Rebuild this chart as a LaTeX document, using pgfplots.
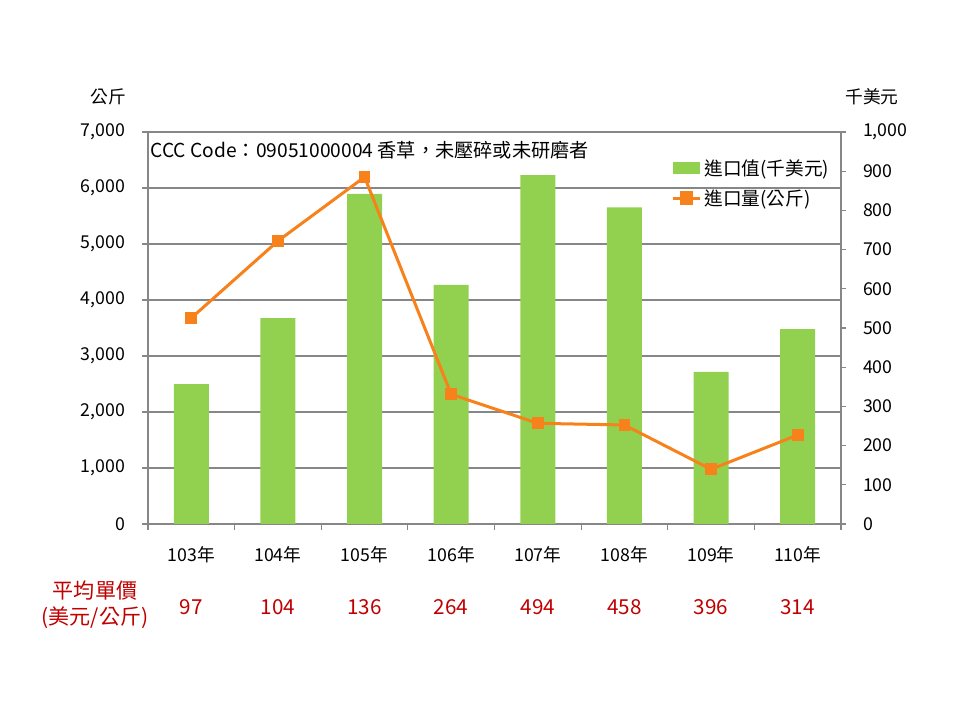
\documentclass[border=0pt]{standalone}
\usepackage{fontspec}
\setmainfont{Noto Sans CJK TC}
\usepackage{pgfplots}
\pgfplotsset{compat=1.18}

\definecolor{barg}{HTML}{92D050}
\definecolor{lineo}{HTML}{F7811A}
\definecolor{darkr}{HTML}{C00000}
\definecolor{axg}{HTML}{878787}

\pgfplotstableread{
x  val  qty
0  357  3679
1  525  5054
2  842  6196
3  610  2316
4  890  1798
5  808  1768
6  388  977
7  497  1589
}\vanilla

\tikzset{price/.style={darkr, font=\fontsize{15.5pt}{17pt}\selectfont, yshift=-62pt}}

\begin{document}
\begin{tikzpicture}[font=\fontsize{13.3pt}{15pt}\selectfont]
\path[use as bounding box] (0,0) rectangle (720pt,540pt);

\pgfplotsset{
  base/.style={
    at={(111pt,147pt)}, anchor=south west,
    scale only axis, width=519.75pt, height=294pt,
    xmin=-0.5, xmax=7.5,
    /pgf/number format/assume math mode=true,
    tick style={axg, line width=0.8pt},
    axis line style={axg, line width=0.8pt},
    tick align=outside,
    clip=false,
  },
}

% grid, left axis, category boundary ticks
\begin{axis}[base,
  axis x line*=bottom, axis y line*=left,
  ymin=0, ymax=7000, ytick={0,1000,...,7000},
  ymajorgrids, grid style={axg, line width=0.8pt},
  xtick={-0.5,0.5,...,7.5}, xticklabels={},
  major tick length=4.5pt,
  scaled y ticks=false,
  yticklabel style={xshift=-9pt},
  /pgf/number format/.cd, 1000 sep={,},
]
\addplot[draw=none] coordinates {(0,0)};
\end{axis}

% bars, right axis
\begin{axis}[base,
  axis x line*=bottom, axis y line*=right,
  ymin=0, ymax=1000, ytick={0,100,...,1000},
  xtick={0,...,7},
  xticklabels={103年,104年,105年,106年,107年,108年,109年,110年},
  x tick style={draw=none},
  major tick length=4pt,
  xticklabel style={yshift=-9pt},
  yticklabel style={xshift=9pt},
  scaled y ticks=false,
  /pgf/number format/.cd, 1000 sep={,},
]
\addplot[ybar, bar width=26.25pt, fill=barg, draw=none] table[x=x, y=val] {\vanilla};
\node[price] at (axis cs:0,0) {97};
\node[price] at (axis cs:1,0) {104};
\node[price] at (axis cs:2,0) {136};
\node[price] at (axis cs:3,0) {264};
\node[price] at (axis cs:4,0) {494};
\node[price] at (axis cs:5,0) {458};
\node[price] at (axis cs:6,0) {396};
\node[price] at (axis cs:7,0) {314};
\end{axis}

% line, left scale, with legend
\begin{axis}[base,
  hide axis,
  ymin=0, ymax=7000,
  legend style={at={(0.987,0.937)}, anchor=north east, draw=none, fill=none,
    inner sep=0pt, row sep=5pt, cells={anchor=west},
    font=\fontsize{14pt}{16pt}\selectfont},
]
\addlegendimage{area legend, fill=barg, draw=none,
  legend image code/.code={\fill[barg] (-2pt,-4.5pt) rectangle (18.5pt,4.5pt);}}
\addlegendentry{進口值(千美元)}
\addplot[lineo, line width=2.25pt, mark=square*, mark size=4pt,
  mark options={fill=lineo, draw=lineo, line width=0pt},
  legend image code/.code={\draw[lineo, line width=2.25pt] (-2pt,0pt) -- (18.5pt,0pt);
    \fill[lineo] (4.25pt,-4pt) rectangle (12.25pt,4pt);}]
  table[x=x, y=qty] {\vanilla};
\addlegendentry{進口量(公斤)}
\end{axis}

\node[anchor=west, font=\fontsize{14.4pt}{16pt}\selectfont] at (109.5pt,427.5pt)
  {CCC Code：09051000004 香草，未壓碎或未研磨者};
\node at (81pt,467.25pt) {公斤};
\node at (654pt,467.25pt) {千美元};
\node[darkr, font=\fontsize{15.8pt}{19pt}\selectfont, align=center] at (71.25pt,86.5pt)
  {平均單價\\(美元/公斤)};
\end{tikzpicture}
\end{document}
